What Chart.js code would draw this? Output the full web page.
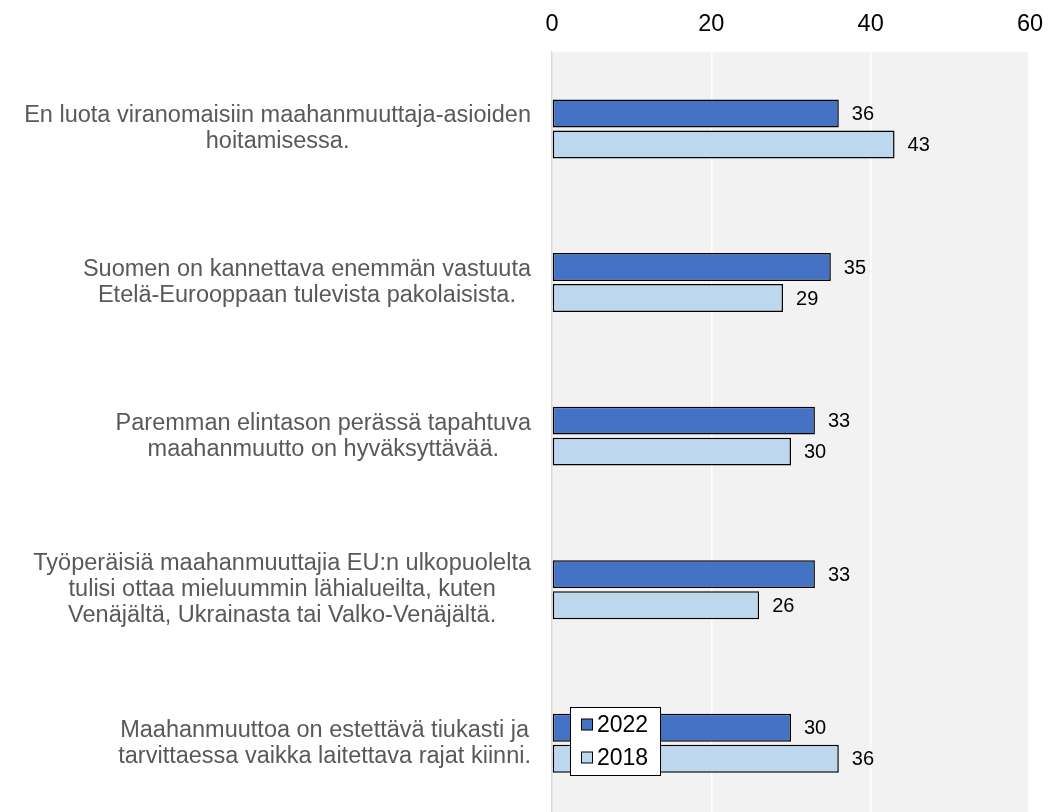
<!DOCTYPE html>
<html>
<head>
<meta charset="utf-8">
<script src="https://cdn.jsdelivr.net/npm/chart.js@4.4.1/dist/chart.umd.min.js"></script>
<style>
  html, body { margin: 0; padding: 0; background: #fff; overflow: hidden; }
  #wrap { width: 1048px; height: 820px; }
</style>
</head>
<body>
<div id="wrap"><canvas id="chart" width="1048" height="820"></canvas></div>
<script>
// kysymykset (rivitetty kuten alkuperäisessä)
const categories = [
  ["En luota viranomaisiin maahanmuuttaja-asioiden", "hoitamisessa."],
  ["Suomen on kannettava enemmän vastuuta", "Etelä-Eurooppaan tulevista pakolaisista."],
  ["Paremman elintason perässä tapahtuva", "maahanmuutto on hyväksyttävää."],
  ["Työperäisiä maahanmuuttajia EU:n ulkopuolelta", "tulisi ottaa mieluummin lähialueilta, kuten", "Venäjältä, Ukrainasta tai Valko-Venäjältä."],
  ["Maahanmuuttoa on estettävä tiukasti ja", "tarvittaessa vaikka laitettava rajat kiinni."],
];
const values2022 = [36, 35, 33, 33, 30];
const values2018 = [43, 29, 30, 26, 36];
const seriesNames = ["2022", "2018"];
const xTicks = [0, 20, 40, 60];

const FONT = "'Liberation Sans', Arial, sans-serif";

// harmaa piirtoalueen tausta
const plotBg = {
  id: "plotBg",
  beforeDraw(chart) {
    const { ctx, chartArea: a } = chart;
    ctx.save();
    ctx.fillStyle = "#f2f2f2";
    ctx.fillRect(a.left, a.top, a.right - a.left - 2, a.bottom - a.top);
    ctx.restore();
  },
};

// kategorioiden tekstit: lohko oikealle, rivit keskitetty
const catLabels = {
  id: "catLabels",
  afterDraw(chart) {
    const { ctx } = chart;
    const y = chart.scales.y;
    const right = 531;
    const lh = 26;
    ctx.save();
    ctx.font = "23.5px " + FONT;
    ctx.fillStyle = "#595959";
    ctx.textAlign = "center";
    ctx.textBaseline = "middle";
    categories.forEach((lines, i) => {
      const w = Math.max(...lines.map((l) => ctx.measureText(l).width));
      const cx = right - w / 2;
      const cy = y.getPixelForValue(i);
      lines.forEach((l, j) => {
        ctx.fillText(l, cx, cy + (j - (lines.length - 1) / 2) * lh);
      });
    });
    ctx.restore();
  },
};

// arvot palkkien perään
const valueLabels = {
  id: "valueLabels",
  afterDatasetsDraw(chart) {
    const { ctx } = chart;
    ctx.save();
    ctx.font = "20px " + FONT;
    ctx.fillStyle = "#000";
    ctx.textAlign = "left";
    ctx.textBaseline = "middle";
    chart.data.datasets.forEach((ds, di) => {
      chart.getDatasetMeta(di).data.forEach((bar, i) => {
        ctx.fillText(ds.data[i], bar.x + 13, bar.y + 1);
      });
    });
    ctx.restore();
  },
};

// selite piirtoalueen sisällä
const boxLegend = {
  id: "boxLegend",
  afterDraw(chart) {
    const { ctx } = chart;
    const x = 570.5, y = 707.5, w = 90, h = 68;
    ctx.save();
    ctx.fillStyle = "#fff";
    ctx.fillRect(x, y, w, h);
    ctx.strokeStyle = "#000";
    ctx.lineWidth = 1;
    ctx.strokeRect(x, y, w, h);
    ctx.font = "23px " + FONT;
    ctx.textBaseline = "middle";
    chart.data.datasets.forEach((ds, i) => {
      const cy = 725 + i * 33;
      ctx.fillStyle = ds.backgroundColor;
      ctx.fillRect(581.5, cy - 6, 11, 11);
      ctx.strokeRect(581.5, cy - 6, 11, 11);
      ctx.fillStyle = "#000";
      ctx.fillText(ds.label, 597, cy + 1);
    });
    ctx.restore();
  },
};

new Chart(document.getElementById("chart"), {
  type: "bar",
  data: {
    labels: categories,
    datasets: [
      {
        label: seriesNames[0],
        data: values2022,
        backgroundColor: "#4472c4",
        borderColor: "#000",
        borderWidth: 1.5,
        borderSkipped: false,
        categoryPercentage: 0.404,
        barPercentage: 0.9,
      },
      {
        label: seriesNames[1],
        data: values2018,
        backgroundColor: "#bdd7ee",
        borderColor: "#000",
        borderWidth: 1.5,
        borderSkipped: false,
        categoryPercentage: 0.404,
        barPercentage: 0.9,
      },
    ],
  },
  options: {
    indexAxis: "y",
    responsive: false,
    animation: false,
    layout: { padding: { left: 544, right: 18, top: -4, bottom: 0 } },
    plugins: {
      legend: { display: false },
      tooltip: { enabled: false },
    },
    scales: {
      x: {
        position: "top",
        min: 0,
        max: 60,
        afterBuildTicks: (axis) => {
          axis.ticks = xTicks.map((v) => ({ value: v }));
        },
        afterFit: (axis) => {
          // ei lisätilaa reunimmaisille tikkiteksteille
          axis.paddingLeft = 0;
          axis.paddingRight = 0;
        },
        ticks: {
          color: "#000",
          font: { family: FONT, size: 23.5 },
          padding: 14,
        },
        grid: {
          drawTicks: false,
          color: (c) => (c.tick && (c.tick.value === 20 || c.tick.value === 40) ? "#ffffff" : "rgba(0,0,0,0)"),
          lineWidth: 1.5,
        },
        border: { display: false },
      },
      y: {
        ticks: { display: false },
        grid: { display: false },
        border: { display: true, color: "#d9d9d9", width: 1.5 },
      },
    },
  },
  plugins: [plotBg, catLabels, valueLabels, boxLegend],
});
</script>
</body>
</html>
